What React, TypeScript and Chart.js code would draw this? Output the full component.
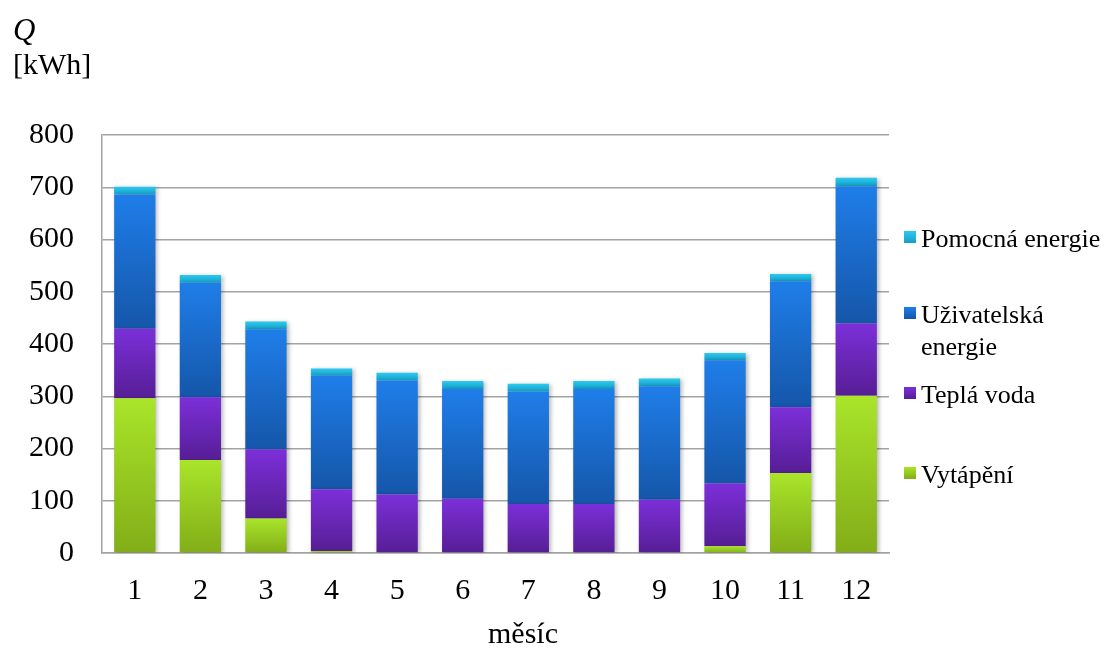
import React, { useEffect, useRef } from "react";
import { Chart, registerables } from "chart.js";

Chart.register(...registerables);

const months = ["1", "2", "3", "4", "5", "6", "7", "8", "9", "10", "11", "12"];
const vytapeni = [296, 178, 66, 4, 0, 0, 0, 0, 0, 13, 153, 301];
const teplaVoda = [133, 120, 132, 118, 112, 104, 94, 94, 102, 120, 126, 138];
const uzivatelska = [257, 219, 230, 217, 218, 210, 215, 220, 217, 236, 241, 263];
const pomocna = [15, 15, 15, 14, 15, 15, 15, 15, 15, 14, 14, 16];
const yTicks = [0, 100, 200, 300, 400, 500, 600, 700, 800];

const seriesNames = ["Vytápění", "Teplá voda", "Uživatelská energie", "Pomocná energie"];
const seriesData = [vytapeni, teplaVoda, uzivatelska, pomocna];
const topColors = ["#a9e52a", "#7c2fd9", "#1f7ee9", "#2ccaf0"];
const bottomColors = ["#82ad18", "#561e95", "#1556a9", "#159ec6"];

const FONT = "'Liberation Serif', 'Times New Roman', serif";
const GRID = "#a3a3a3";

const makeBg = (idx: number) => (ctx: any) => {
  const chart = ctx.chart;
  const y = chart.scales && chart.scales.y;
  if (!y || ctx.type !== "data") return bottomColors[idx];
  const i = ctx.dataIndex;
  let base = 0;
  for (let k = 0; k < idx; k++) base += seriesData[k][i];
  const v = seriesData[idx][i];
  const y0 = y.getPixelForValue(base);
  const y1 = y.getPixelForValue(base + v);
  if (!isFinite(y0) || !isFinite(y1) || Math.abs(y0 - y1) < 0.5) return bottomColors[idx];
  const g = chart.ctx.createLinearGradient(0, y1, 0, y0);
  g.addColorStop(0, topColors[idx]);
  g.addColorStop(1, bottomColors[idx]);
  return g;
};

const shadowPlugin = {
  id: "barShadow",
  beforeDatasetsDraw(chart: any) {
    const c = chart.ctx;
    c.save();
    c.shadowColor = "rgba(0,0,0,0.28)";
    c.shadowBlur = 4;
    c.shadowOffsetX = 2;
    c.shadowOffsetY = 1;
  },
  afterDatasetsDraw(chart: any) {
    chart.ctx.restore();
  },
};

const textPlugin = {
  id: "freeText",
  afterDraw(chart: any) {
    const c = chart.ctx;
    c.save();
    c.fillStyle = "#000";
    c.textBaseline = "alphabetic";
    c.textAlign = "left";
    c.font = `italic 31px ${FONT}`;
    c.fillText("Q", 13, 40);
    c.font = `30px ${FONT}`;
    c.fillText("[kWh]", 13, 74);
    c.fillText("měsíc", 488, 643);

    // legend (top to bottom, reversed series order)
    c.font = `26px ${FONT}`;
    const items = [
      { idx: 3, lines: ["Pomocná energie"], base: 247 },
      { idx: 2, lines: ["Uživatelská", "energie"], base: 323 },
      { idx: 1, lines: ["Teplá voda"], base: 403 },
      { idx: 0, lines: ["Vytápění"], base: 483 },
    ];
    items.forEach((it) => {
      const sq = 12;
      const sy = it.base - 16;
      const g = c.createLinearGradient(0, sy, 0, sy + sq);
      g.addColorStop(0, topColors[it.idx]);
      g.addColorStop(1, bottomColors[it.idx]);
      c.fillStyle = g;
      c.fillRect(904, sy, sq, sq);
      c.fillStyle = "#000";
      it.lines.forEach((ln, j) => {
        c.fillText(ln, 921, it.base + j * 32);
      });
    });
    c.restore();
  },
};

export default function App() {
  const ref = useRef<HTMLCanvasElement | null>(null);

  useEffect(() => {
    if (!ref.current) return;
    Chart.defaults.font.family = FONT;
    Chart.defaults.color = "#000";
    const chart = new Chart(ref.current, {
      type: "bar",
      data: {
        labels: months,
        datasets: seriesData.map((d, idx) => ({
          label: seriesNames[idx],
          data: d,
          backgroundColor: makeBg(idx),
          borderWidth: 0,
          barPercentage: 0.63,
          categoryPercentage: 1,
          stack: "s",
        })),
      },
      options: {
        animation: false,
        responsive: true,
        maintainAspectRatio: false,
        layout: { padding: { left: 0, right: 217, top: 135, bottom: 0 } },
        plugins: {
          legend: { display: false },
          tooltip: { enabled: false },
          title: { display: false },
        },
        scales: {
          x: {
            stacked: true,
            grid: { display: false, drawTicks: false },
            border: { display: true, color: GRID, width: 1.5 },
            ticks: { font: { size: 30, family: FONT }, color: "#000", padding: 20, maxRotation: 0 },
            afterFit: (s: any) => {
              s.height = 96;
            },
          },
          y: {
            stacked: true,
            min: 0,
            max: 800,
            afterBuildTicks: (s: any) => {
              s.ticks = yTicks.map((v) => ({ value: v }));
            },
            grid: { color: GRID, lineWidth: 1.5, drawTicks: false },
            border: { display: true, color: GRID, width: 1.5 },
            ticks: { font: { size: 30, family: FONT }, color: "#000", padding: 28 },
            afterFit: (s: any) => {
              s.width = 102;
            },
          },
        },
      },
      plugins: [shadowPlugin, textPlugin],
    });
    return () => chart.destroy();
  }, []);

  return (
    <div style={{ position: "absolute", left: 0, top: 0, width: 1106, height: 649, background: "#fff" }}>
      <canvas ref={ref} />
    </div>
  );
}
